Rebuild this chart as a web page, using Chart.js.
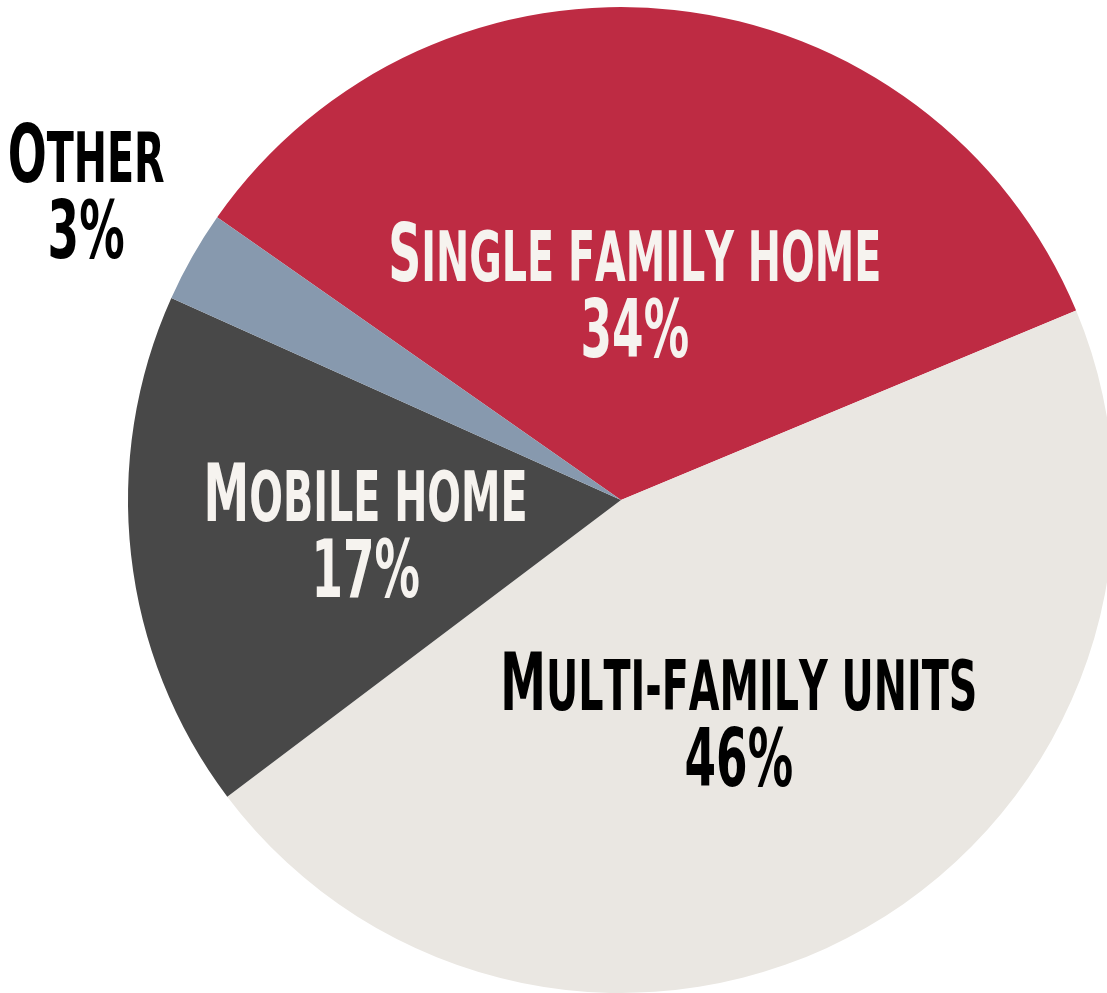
<!DOCTYPE html>
<html>
<head>
<meta charset="utf-8">
<script src="https://cdn.jsdelivr.net/npm/chart.js@4/dist/chart.umd.min.js"></script>
<style>
  html, body { margin: 0; padding: 0; background: #ffffff; overflow: hidden; }
  #wrap { position: absolute; left: 0; top: 0; width: 1242px; height: 1000px; }
</style>
</head>
<body>
<div id="wrap"><canvas id="housingPie"></canvas></div>
<script>
const categories = ["Single family home", "Multi-family units", "Mobile home", "Other"];
const shares = [34, 46, 17, 3];
const percentLabels = ["34%", "46%", "17%", "3%"];

const sliceColors = ["#be2b43", "#eae7e2", "#484848", "#8799ae"];
const textColors = ["#f6f3ef", "#000000", "#f6f3ef", "#000000"];

// label block centre, in units of the pie radius, relative to the pie centre
const labelAnchors = [
  { dx: 0.028, dy: -0.425 },
  { dx: 0.239, dy: 0.444 },
  { dx: -0.518, dy: 0.06 },
  { dx: -1.085, dy: -0.626 },
];

const FONT_FAMILY = '"Liberation Sans Narrow", "DejaVu Sans Condensed", "Roboto", sans-serif';
const BIG_SIZE = 81;
const SMALL_SIZE = 70;
const PCT_SIZE = 80;

function capsSegments(text) {
  const segs = [];
  for (let i = 0; i < text.length; i++) {
    const ch = text[i];
    const big = ch !== ch.toLowerCase() && i === 0;
    segs.push({ text: ch.toUpperCase(), size: big ? BIG_SIZE : SMALL_SIZE });
  }
  return segs;
}

function segWidth(ctx, segs) {
  let w = 0;
  segs.forEach((s) => {
    ctx.font = `bold ${s.size}px ${FONT_FAMILY}`;
    w += ctx.measureText(s.text).width;
  });
  return w;
}

function drawSegs(ctx, segs, cx, baseline, sx, color) {
  const total = segWidth(ctx, segs) * sx;
  ctx.save();
  ctx.translate(cx - total / 2, baseline);
  ctx.scale(sx, 1);
  ctx.fillStyle = color;
  ctx.textBaseline = "alphabetic";
  ctx.textAlign = "left";
  let x = 0;
  segs.forEach((s) => {
    ctx.font = `bold ${s.size}px ${FONT_FAMILY}`;
    ctx.fillText(s.text, x, 0);
    x += ctx.measureText(s.text).width;
  });
  ctx.restore();
}

const sliceLabels = {
  id: "sliceLabels",
  afterDatasetsDraw(chart) {
    const ctx = chart.ctx;
    const arc = chart.getDatasetMeta(0).data[0];
    const r = arc.outerRadius;
    const cx = arc.x;
    const cy = arc.y;

    // one horizontal squeeze for every label, sized off the widest line
    const sx = 493 / segWidth(ctx, capsSegments(categories[0]));

    categories.forEach((name, i) => {
      const px = cx + labelAnchors[i].dx * r;
      const py = cy + labelAnchors[i].dy * r;
      drawSegs(ctx, capsSegments(name), px, py - 9, sx, textColors[i]);
      drawSegs(ctx, [{ text: percentLabels[i], size: PCT_SIZE }], px, py + 67, sx, textColors[i]);
    });
  },
};

new Chart(document.getElementById("housingPie"), {
  type: "pie",
  data: {
    labels: categories,
    datasets: [
      {
        data: shares,
        backgroundColor: sliceColors,
        borderWidth: 0,
        hoverOffset: 0,
      },
    ],
  },
  options: {
    responsive: true,
    maintainAspectRatio: false,
    animation: false,
    rotation: -55,
    layout: { padding: { top: 7, bottom: 7, left: 0, right: 0 } },
    events: [],
    plugins: {
      legend: { display: false },
      tooltip: { enabled: false },
    },
  },
  plugins: [sliceLabels],
});
</script>
</body>
</html>
